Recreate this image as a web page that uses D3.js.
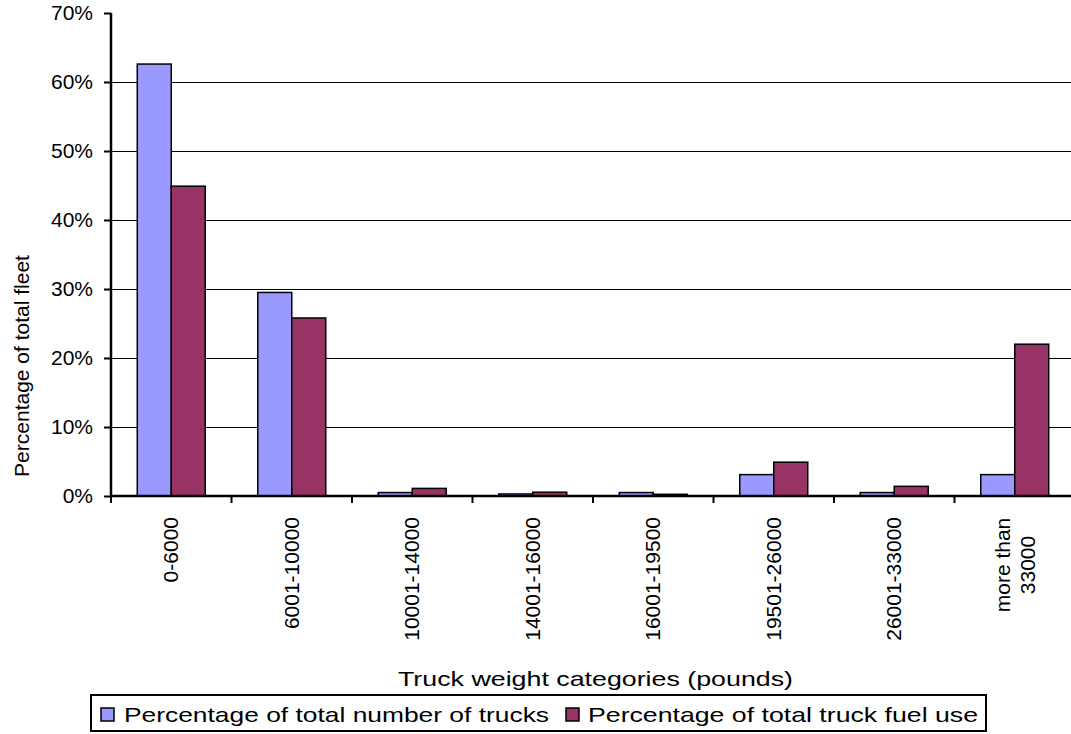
<!DOCTYPE html>
<html>
<head>
<meta charset="utf-8">
<script src="https://cdn.jsdelivr.net/npm/d3@7"></script>
<style>
  html, body { margin: 0; padding: 0; background: #fff; overflow: hidden; }
  svg { display: block; }
  text { font-family: "Liberation Sans", Arial, sans-serif; fill: #000; }
</style>
</head>
<body>
<svg id="chart" width="1071" height="734"></svg>
<script>
const categories = ["0-6000", "6001-10000", "10001-14000", "14001-16000", "16001-19500", "19501-26000", "26001-33000", "more than\n33000"];
const seriesNames = ["Percentage of total number of trucks", "Percentage of total truck fuel use"];
const trucksPct = [62.6, 29.5, 0.5, 0.3, 0.5, 3.1, 0.5, 3.1];
const fuelPct = [44.9, 25.8, 1.1, 0.55, 0.25, 4.9, 1.4, 22.0];
const yTicks = [0, 10, 20, 30, 40, 50, 60, 70];
const colors = ["#9999FF", "#993366"];
const xTitle = "Truck weight categories (pounds)";
const yTitle = "Percentage of total fleet";

const svg = d3.select("#chart");
const plot = { left: 111, right: 1075, top: 13, bottom: 496 };

const y = d3.scaleLinear().domain([0, 70]).range([plot.bottom, plot.top]);
const x0 = d3.scaleBand().domain(categories).range([plot.left, plot.right])
  .paddingInner(0.436).paddingOuter(0.218);
const x1 = d3.scaleBand().domain([0, 1]).range([0, x0.bandwidth()]);

// gridlines
svg.append("g").selectAll("line").data(yTicks.filter(d => d > 0 && d < 70)).join("line")
  .attr("x1", plot.left).attr("x2", plot.right)
  .attr("y1", d => Math.round(y(d)) + 0.5).attr("y2", d => Math.round(y(d)) + 0.5)
  .attr("stroke", "#000").attr("stroke-width", 1);

// bars
const rows = categories.map((c, i) => ({ c, vals: [trucksPct[i], fuelPct[i]] }));
const g = svg.append("g").selectAll("g").data(rows).join("g")
  .attr("transform", d => `translate(${x0(d.c)},0)`);
g.selectAll("rect").data(d => d.vals.map((v, k) => ({ v, k }))).join("rect")
  .attr("x", d => x1(d.k))
  .attr("y", d => y(d.v))
  .attr("width", x1.bandwidth())
  .attr("height", d => plot.bottom - y(d.v))
  .attr("fill", d => colors[d.k])
  .attr("stroke", "#000").attr("stroke-width", 1.5);

// y axis
const yAxis = d3.axisLeft(y).tickValues(yTicks).tickSize(7).tickFormat(d => d + "%");
const ya = svg.append("g").attr("transform", `translate(${plot.left},0)`).call(yAxis);
ya.select(".domain").attr("stroke", "#000").attr("stroke-width", 2.5)
  .attr("d", `M0,${plot.top}V${plot.bottom}`);
ya.selectAll(".tick line").attr("stroke", "#000").attr("stroke-width", 2);
ya.selectAll(".tick text").attr("x", -18).attr("font-size", 21)
  .style("font-family", '"Liberation Sans", Arial, sans-serif').attr("fill", "#000");

// x axis
const boundaries = categories.map(c => x0(c) - x0.step() * x0.paddingOuter()).concat([plot.right]);
const xa = svg.append("g");
xa.append("line").attr("x1", plot.left - 1).attr("x2", plot.right)
  .attr("y1", plot.bottom).attr("y2", plot.bottom)
  .attr("stroke", "#000").attr("stroke-width", 2.5);
xa.selectAll("line.tk").data(boundaries).join("line").attr("class", "tk")
  .attr("x1", d => d).attr("x2", d => d)
  .attr("y1", plot.bottom).attr("y2", plot.bottom + 7)
  .attr("stroke", "#000").attr("stroke-width", 2);

// x labels (rotated)
categories.forEach(c => {
  const lines = c.split("\n");
  const cx = x0(c) + x0.bandwidth() / 2;
  if (lines.length === 1) {
    svg.append("text")
      .attr("transform", `translate(${cx + 7},517) rotate(-90)`)
      .attr("text-anchor", "end").attr("font-size", 21)
      .text(lines[0]);
  } else {
    lines.forEach((ln, i) => {
      svg.append("text")
        .attr("transform", `translate(${cx - 5 + i * 25},565) rotate(-90)`)
        .attr("text-anchor", "middle").attr("font-size", 21)
        .text(ln);
    });
  }
});

// axis titles
svg.append("text").attr("x", 398).attr("y", 686).attr("font-size", 21)
  .attr("textLength", 395).attr("lengthAdjust", "spacingAndGlyphs").text(xTitle);
svg.append("text").attr("transform", "translate(29,366) rotate(-90)")
  .attr("text-anchor", "middle").attr("font-size", 21).text(yTitle);

// legend
const lg = svg.append("g");
lg.append("rect").attr("x", 91).attr("y", 695).attr("width", 895).attr("height", 36)
  .attr("fill", "#fff").attr("stroke", "#000").attr("stroke-width", 2);
const legendItems = [
  { sx: 101, tx: 124, tw: 425 },
  { sx: 566, tx: 588, tw: 390 }
];
legendItems.forEach((it, k) => {
  lg.append("rect").attr("x", it.sx).attr("y", 708).attr("width", 13).attr("height", 13)
    .attr("fill", colors[k]).attr("stroke", "#000").attr("stroke-width", 1.5);
  lg.append("text").attr("x", it.tx).attr("y", 722).attr("font-size", 21)
    .attr("textLength", it.tw).attr("lengthAdjust", "spacingAndGlyphs").text(seriesNames[k]);
});
</script>
</body>
</html>
